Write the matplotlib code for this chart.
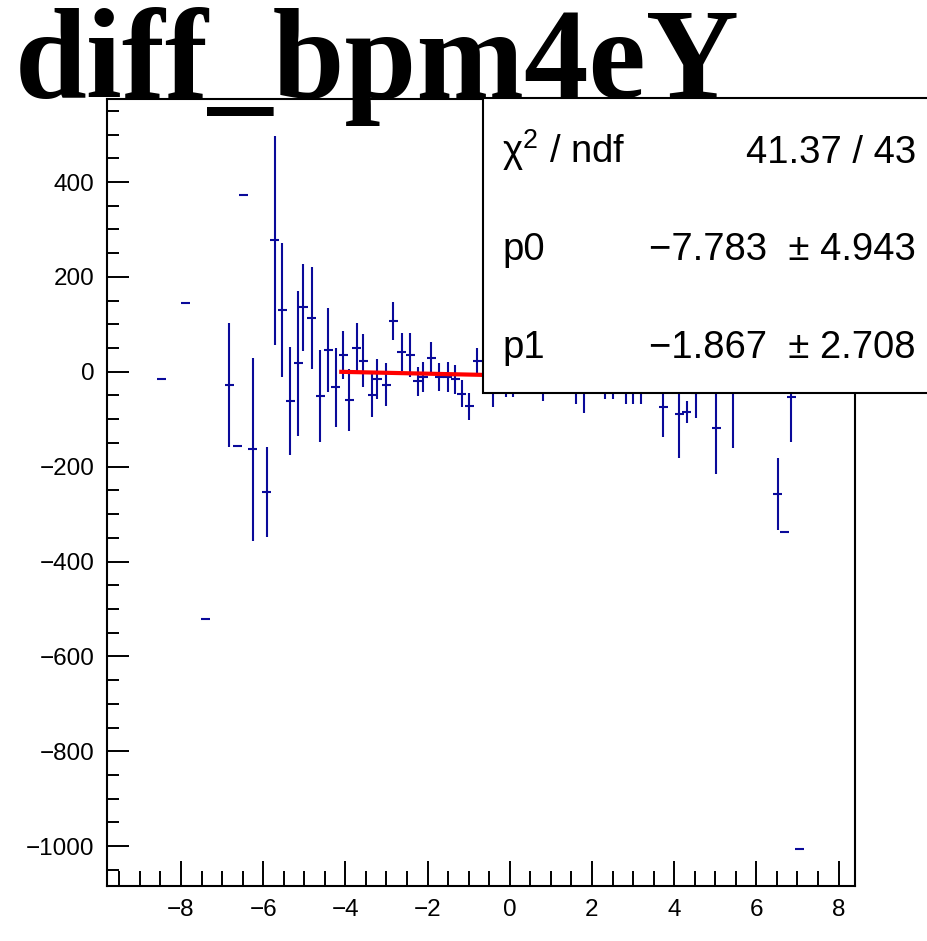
import numpy as np
import matplotlib
matplotlib.use("Agg")
import matplotlib.pyplot as plt
from matplotlib.patches import Rectangle
from matplotlib.ticker import MultipleLocator

plt.rcParams['mathtext.fontset'] = 'custom'
plt.rcParams['mathtext.rm'] = 'Liberation Sans'
plt.rcParams['mathtext.it'] = 'Liberation Sans'

# profile points (bin centre, mean, error)
x_pts = [-8.48, -7.89, -7.40, -6.83, -6.63, -6.47, -6.25, -5.91, -5.72, -5.53,
         -5.34, -5.15, -5.02, -4.82, -4.61, -4.42, -4.23, -4.05, -3.91, -3.72,
         -3.56, -3.35, -3.23, -3.01, -2.83, -2.63, -2.42, -2.24, -2.10, -1.91,
         -1.71, -1.51, -1.33, -1.17, -0.99, -0.79, -0.41, -0.09, 0.09, 0.81,
         1.61, 1.80, 2.31, 2.52, 2.82, 3.00, 3.20, 3.73, 4.12, 4.31,
         4.52, 5.03, 5.43, 6.52, 6.69, 6.85, 7.05]
y_pts = [-16, 146, -522, -28, -156, 372, -163, -253, 277, 130,
         -61, 18, 136, 113, -51, 46, -33, 35, -60, 51,
         23, -50, -15, -27, 108, 41, 36, -20, -11, 29,
         -11, -11, -16, -46, -73, 23, -30, -20, -22, -25,
         -28, -35, -22, -24, -30, -30, -30, -74, -89, -85,
         -45, -118, -40, -258, -337, -54, -1007]
y_err = [0, 0, 0, 131, 0, 0, 193, 95, 221, 142,
         114, 153, 92, 108, 96, 88, 84, 50, 65, 51,
         56, 45, 42, 45, 40, 40, 46, 31, 31, 33,
         30, 32, 30, 29, 28, 28, 45, 34, 32, 36,
         40, 51, 35, 33, 37, 37, 37, 63, 93, 24,
         53, 98, 120, 76, 0, 93, 0]
half_bin = 0.11

# fit result (pol1)
p0, p0_err = -7.783, 4.943
p1, p1_err = -1.867, 2.708
chi2, ndf = 41.37, 43
fit_range = [-4.1, 4.1]

W, H = 928, 941
fig = plt.figure(figsize=(W / 100, H / 100), dpi=100)
ax = fig.add_axes([107 / W, 1 - 886 / H, (855 - 107) / W, (886 - 99) / H])

blue = '#0a0a9a'
ax.errorbar(x_pts, y_pts, yerr=y_err, xerr=half_bin, fmt='none',
            ecolor=blue, elinewidth=1.5, capsize=0, zorder=2)

fx = np.linspace(fit_range[0], fit_range[1], 50)
ax.plot(fx, p0 + p1 * fx, color='#ff0000', lw=3, zorder=3)

ax.set_xlim(-9.8, 8.4)
ax.set_ylim(-1084, 575)
ax.xaxis.set_major_locator(MultipleLocator(2))
ax.xaxis.set_minor_locator(MultipleLocator(0.5))
ax.yaxis.set_major_locator(MultipleLocator(200))
ax.yaxis.set_minor_locator(MultipleLocator(50))
ax.tick_params(axis='x', which='major', direction='in', length=18, width=1.4,
               pad=9, labelsize=17.5)
ax.tick_params(axis='x', which='minor', direction='in', length=10.5, width=1.4)
ax.tick_params(axis='y', which='major', direction='in', length=15.5, width=1.4,
               pad=9, labelsize=17.5)
ax.tick_params(axis='y', which='minor', direction='in', length=8.5, width=1.4)
for lab in ax.get_xticklabels() + ax.get_yticklabels():
    lab.set_fontfamily('Liberation Sans')
for s in ax.spines.values():
    s.set_linewidth(1.5)

# stats box
fig.add_artist(Rectangle((483 / W, 1 - 393 / H), (W + 5 - 483) / W, (393 - 98) / H,
                         transform=fig.transFigure, facecolor='white',
                         edgecolor='black', lw=1.5, zorder=5, clip_on=False))
sfont = dict(fontfamily='Liberation Sans', fontsize=27.5, va='baseline', zorder=6)
rows = [('\u03c7$^{2}$ / ndf', f'{chi2:.2f} / {ndf}'),
        ('p0', f'\u2212{abs(p0):.3f}  \u00b1 {p0_err:.3f}'),
        ('p1', f'\u2212{abs(p1):.3f}  \u00b1 {p1_err:.3f}')]
for (left, right), yb in zip(rows, [163, 260, 358]):
    fig.text(502 / W, 1 - yb / H, left, ha='left', **sfont)
    fig.text(916 / W, 1 - yb / H, right, ha='right', **sfont)

fig.text(15 / W, 1 - 98 / H, 'diff_bpm4eY', fontfamily='Liberation Serif',
         fontweight='bold', fontsize=93, va='baseline', zorder=7)

fig.savefig('out.png', dpi=100)
